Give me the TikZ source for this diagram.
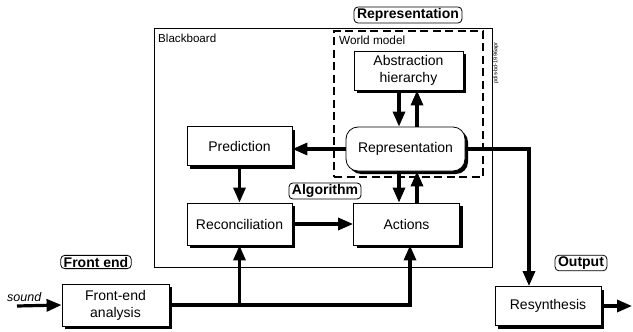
\documentclass[tikz,border=0pt]{standalone}
\usepackage{fontspec}
\setmainfont{Liberation Sans}
\usetikzlibrary{arrows.meta,shadows}

\tikzset{
  block/.style={draw, line width=0.8pt, fill=white, align=center, inner sep=0pt,
    font=\fontsize{14}{17}\selectfont,
    drop shadow={shadow xshift=3pt, shadow yshift=-3pt, fill=black, opacity=1}},
  tag/.style={draw, line width=0.8pt, rounded corners=4pt, fill=white,
    inner xsep=3pt, inner ysep=1.5pt, font=\fontsize{14}{16}\selectfont\bfseries},
  frame/.style={draw, line width=0.8pt, inner sep=0pt},
  flow/.style={line width=3.2pt, -{Triangle[length=15pt,width=12pt]}},
  caption/.style={inner sep=0pt, anchor=base west}
}

\begin{document}
\begin{tikzpicture}[x=1pt,y=-1pt]
  \useasboundingbox (0,0) rectangle (633,332);

  % blackboard frame and world-model region
  \node[frame, minimum width=338pt, minimum height=239pt] (bb) at (323,147.5) {};
  \node[caption, font=\fontsize{11.6}{13}\selectfont] (bbtxt) at (158,42) {Blackboard};
  \node[frame, line width=1.8pt, dash pattern=on 8pt off 4.5pt,
        minimum width=149pt, minimum height=146pt] (wm) at (408.5,104) {};
  \node[caption, font=\fontsize{11.8}{13}\selectfont] (wmtxt) at (339,44) {World model};

  % section labels
  \node[tag] (lrep) at (408,15) {Representation};
  \node[tag] (lalg) at (325,191) {Algorithm};
  \node[tag] (lfe) at (96,262) {Front end};
  \node[tag] (lout) at (581,263) {Output};

  % processing blocks
  \node[block, minimum width=109pt, minimum height=39pt] (abs) at (408.5,70.5) {Abstraction\\hierarchy};
  \node[block, rounded corners=12pt, minimum width=119pt, minimum height=44pt] (rep) at (405.5,149) {Representation};
  \node[block, minimum width=105pt, minimum height=39pt] (pred) at (239.5,146) {Prediction};
  \node[block, minimum width=105pt, minimum height=42pt] (recon) at (239.5,224) {Reconciliation};
  \node[block, minimum width=106pt, minimum height=42pt] (act) at (406.5,224) {Actions};
  \node[block, minimum width=107pt, minimum height=42pt] (fe) at (115.5,305) {Front-end\\analysis};
  \node[block, minimum width=106pt, minimum height=39pt] (resyn) at (548,306) {Resynthesis};

  % reference tag on the side
  \node[inner sep=0pt, rotate=90, font=\fontsize{5.6}{6}\selectfont] (ref) at (496,63) {pdis-bd-1996apr};
  \node[caption, font=\fontsize{12.5}{14}\selectfont\itshape] (snd) at (7,301) {sound};

  % routing columns
  \coordinate (dn) at (399,0);
  \coordinate (up) at (417,0);
  \coordinate (br) at (410,0);
  \coordinate (out) at (529,0);
  \coordinate (src) at (17,306);
  \coordinate (sink) at (632,306);

  % connectors
  \draw[flow] (abs.south -| dn) -- (rep.north -| dn);
  \draw[flow] (rep.north -| up) -- (abs.south -| up);
  \draw[flow] (rep.south -| dn) -- (act.north -| dn);
  \draw[flow] (act.north -| up) -- (rep.south -| up);
  \draw[flow] (rep.west) -- (rep.west -| pred.east);
  \draw[flow] (pred.south) -- (recon.north);
  \draw[flow] (recon.east) -- (act.west);
  \draw[flow] (src) -- (fe.west);
  \draw[flow] (fe.east) -| (br |- act.south);
  \draw[flow] (fe.east -| recon.south) -- (recon.south);
  \draw[flow] (rep.east) -| (out |- resyn.north);
  \draw[flow] (resyn.east) -- (sink);
\end{tikzpicture}
\end{document}
